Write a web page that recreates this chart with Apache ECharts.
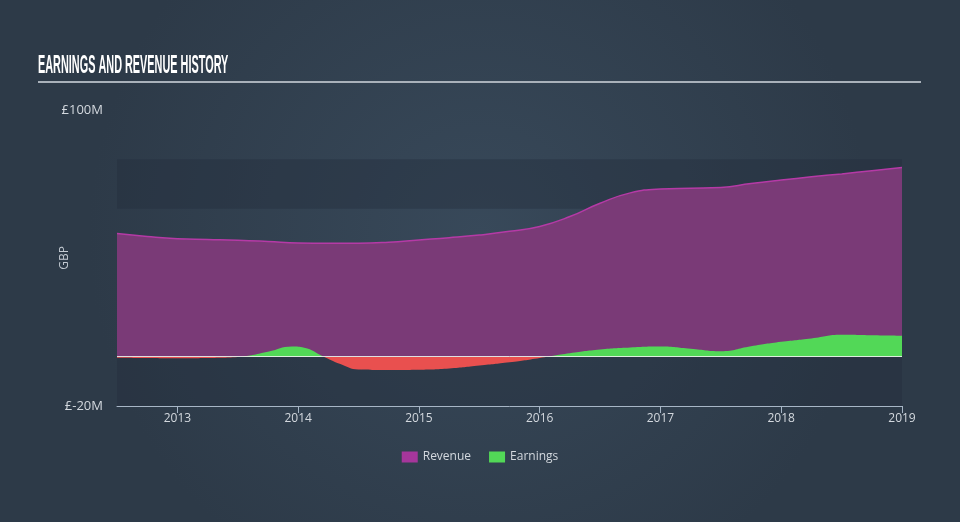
<!DOCTYPE html>
<html>
<head>
<meta charset="utf-8">
<script src="https://cdn.jsdelivr.net/npm/echarts@6/dist/echarts.min.js"></script>
<style>
html,body{margin:0;padding:0;background:#313f4e;}
#chart{width:960px;height:522px;}
</style>
</head>
<body>
<div id="chart"></div>
<script>
const titleText = 'EARNINGS AND REVENUE HISTORY';
const xTickYears = [2013, 2014, 2015, 2016, 2017, 2018, 2019];
const yLabelValues = [-20, 100];

const revenueYears = [2012.5, 2012.75, 2013.0, 2013.25, 2013.5, 2013.75, 2014.0, 2014.25, 2014.5, 2014.75, 2015.0, 2015.25, 2015.5, 2015.75, 2016.0, 2016.25, 2016.5, 2016.75, 2017.0, 2017.25, 2017.5, 2017.75, 2018.0, 2018.25, 2018.5, 2018.75, 2019.0];
const revenueValues = [49.9, 48.7, 47.8, 47.5, 47.2, 46.7, 46.1, 46.0, 46.0, 46.4, 47.3, 48.2, 49.3, 50.8, 52.8, 56.8, 62.2, 66.4, 68.0, 68.3, 68.6, 70.2, 71.6, 72.9, 74.1, 75.4, 76.7];

const earningsYears = [2012.5, 2012.75, 2013.0, 2013.25, 2013.5, 2013.75, 2013.95, 2014.05, 2014.2, 2014.35, 2014.5, 2014.75, 2015.0, 2015.25, 2015.5, 2015.75, 2016.0, 2016.25, 2016.5, 2016.75, 2017.0, 2017.25, 2017.5, 2017.75, 2018.0, 2018.25, 2018.5, 2018.75, 2019.0];
const earningsValues = [-0.4, -0.5, -0.6, -0.5, -0.1, 2.0, 4.1, 3.6, 0.3, -3.0, -5.2, -5.4, -5.3, -4.8, -3.6, -2.3, -0.5, 1.4, 2.9, 3.7, 4.1, 3.2, 2.2, 4.2, 6.0, 7.4, 8.9, 8.7, 8.5];

const seriesNames = ['Revenue', 'Earnings'];

const chart = echarts.init(document.getElementById('chart'), null, {renderer: 'canvas'});
const font = '"Open Sans", sans-serif';
const GREEN = '#52d857';
const RED = '#e9504f';

const option = {
  backgroundColor: {
    type: 'radial', x: 0.5, y: 0.45, r: 0.75,
    colorStops: [{offset: 0, color: '#38495a'}, {offset: 1, color: '#2d3a48'}]
  },
  animation: false,
  graphic: [
    {
      type: 'text', left: 38, top: 54, scaleX: 0.435,
      style: {text: titleText, font: 'bold 25px "Liberation Sans Narrow", sans-serif', fill: '#ffffff'}
    },
    {
      type: 'rect', shape: {x: 38, y: 81, width: 883, height: 2},
      style: {fill: '#a9b1ba'}
    }
  ],
  grid: {left: 117, right: 58, top: 110, bottom: 116},
  legend: {
    bottom: 54, left: 'center', icon: 'rect', itemWidth: 16, itemHeight: 11, itemGap: 18,
    textStyle: {color: '#d3d8de', fontSize: 12, fontFamily: font},
    data: [
      {name: seriesNames[0], itemStyle: {color: '#a5369b'}},
      {name: seriesNames[1], itemStyle: {color: GREEN}}
    ]
  },
  xAxis: {
    type: 'value', min: 2012.5, max: 2019.0,
    splitLine: {show: false},
    axisLine: {show: true, onZero: false, lineStyle: {color: '#a7b6c6', width: 1}},
    axisTick: {show: true, length: 7, lineStyle: {color: '#a7b6c6'}, customValues: xTickYears},
    axisLabel: {
      color: '#d3d8de', fontSize: 12, fontFamily: font, margin: 7,
      customValues: xTickYears,
      formatter: v => (Number.isInteger(v) ? String(v) : '')
    }
  },
  yAxis: {
    type: 'value', min: -20, max: 100, interval: 20,
    name: 'GBP', nameLocation: 'middle', nameRotate: 90, nameGap: 46, nameMoveOverlap: false,
    nameTextStyle: {color: '#c3cad2', fontSize: 12, fontFamily: font},
    axisLine: {show: false}, axisTick: {show: false},
    splitLine: {show: false},
    splitArea: {show: true, areaStyle: {color: ['rgba(34,46,60,0.4)', 'rgba(0,0,0,0)']}},
    axisLabel: {
      color: '#d3d8de', fontSize: 13, fontFamily: font, margin: 14,
      formatter: v => (yLabelValues.indexOf(v) >= 0 ? '£' + v + 'M' : '')
    }
  },
  series: [
    {
      name: seriesNames[0], type: 'line', smooth: 0.5, showSymbol: false,
      data: revenueYears.map((x, i) => [x, revenueValues[i]]),
      itemStyle: {color: '#a5369b'},
      lineStyle: {color: '#b53aa6', width: 1.5},
      areaStyle: {color: '#7a3a77', opacity: 1},
      z: 2
    },
    {
      name: seriesNames[1], type: 'line', smooth: 0.5, showSymbol: false,
      data: earningsYears.map((x, i) => [x, earningsValues[i]]),
      itemStyle: {color: GREEN},
      lineStyle: {width: 0},
      areaStyle: {color: GREEN, opacity: 1},
      markLine: {
        silent: true, symbol: 'none', label: {show: false},
        lineStyle: {color: 'rgba(255,255,255,0.8)', width: 1, type: 'solid'},
        data: [{yAxis: 0}]
      },
      z: 3
    }
  ]
};
chart.setOption(option);

const zeroY = chart.convertToPixel({yAxisIndex: 0}, 0);
const off = zeroY / 522;
chart.setOption({
  series: [{}, {
    areaStyle: {
      color: {
        type: 'linear', x: 0, y: 0, x2: 0, y2: 522, global: true,
        colorStops: [
          {offset: 0, color: GREEN}, {offset: off, color: GREEN},
          {offset: off, color: RED}, {offset: 1, color: RED}
        ]
      }
    }
  }]
});
</script>
</body>
</html>
